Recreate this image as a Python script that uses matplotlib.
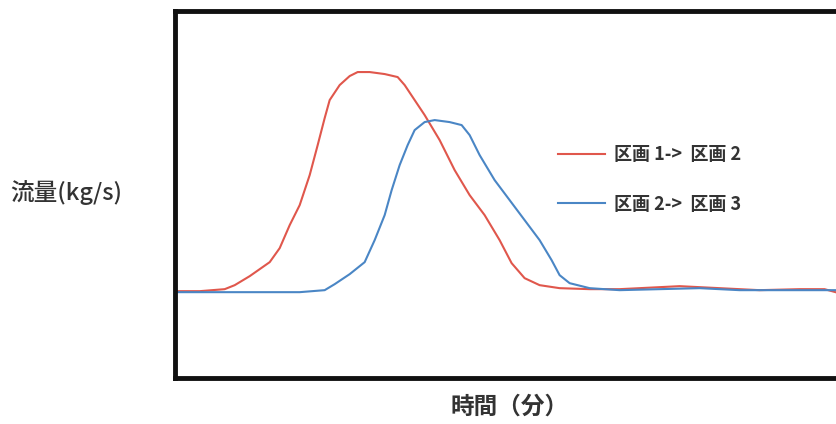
import numpy as np
import matplotlib.pyplot as plt

plt.rcParams['font.family'] = ['Noto Sans CJK JP', 'DejaVu Sans']

# curve values (x: time, y: flow, arbitrary units)
t1 = [3, 25, 50, 60, 75, 95, 105, 115, 125, 135, 143, 150, 155, 165, 175, 183,
      195, 210, 223, 230, 240, 250, 265, 280, 295, 310, 325, 337, 350, 365,
      385, 415, 445, 485, 505, 545, 585, 625, 650, 661]
q1 = [87, 87, 89, 93, 102, 116, 130, 153, 173, 203, 233, 260, 278, 293, 302,
      306, 306, 304, 301, 293, 278, 263, 238, 208, 183, 163, 138, 115, 100, 93,
      90, 89, 89, 91, 92, 90, 88, 89, 89, 86]
t2 = [3, 75, 125, 150, 160, 175, 190, 200, 210, 217, 225, 233, 240, 250, 260,
      275, 287, 295, 305, 320, 335, 350, 365, 377, 385, 395, 415, 445, 485,
      525, 565, 605, 645, 661]
q2 = [86, 86, 86, 88, 94, 104, 116, 138, 163, 188, 213, 233, 248, 256, 258,
      256, 253, 243, 223, 198, 178, 158, 138, 118, 103, 95, 90, 88, 89, 90,
      88, 88, 88, 88]
labels = ['区画 1->  区画 2', '区画 2->  区画 3']

fig = plt.figure(figsize=(8.36, 4.24), dpi=100)
ax = fig.add_axes([0.209, 0.108, 0.80, 0.866])
ax.plot(t1, q1, color='#e0574c', lw=1.5, label=labels[0])
ax.plot(t2, q2, color='#4a86c5', lw=1.5, label=labels[1])
ax.set_xlim(0, 669)
ax.set_ylim(0, 367)
ax.set_xticks([])
ax.set_yticks([])
for s in ax.spines.values():
    s.set_linewidth(3.5)
    s.set_color('#111111')

leg = ax.legend(loc='center left', bbox_to_anchor=(0.5725, 0.542), frameon=False,
                borderaxespad=0, borderpad=0, handlelength=2.6, handletextpad=0.5,
                labelspacing=1.7, prop={'size': 13, 'weight': 'bold'})
for txt in leg.get_texts():
    txt.set_color('#333333')

fig.text(0.012, 0.545, '流量(kg/s)', fontsize=17, color='#333333', va='center',
         weight='medium')
fig.text(0.61, 0.04, '時間（分）', fontsize=17, color='#333333', ha='center',
         weight='bold', va='center')

fig.savefig('out.png')
